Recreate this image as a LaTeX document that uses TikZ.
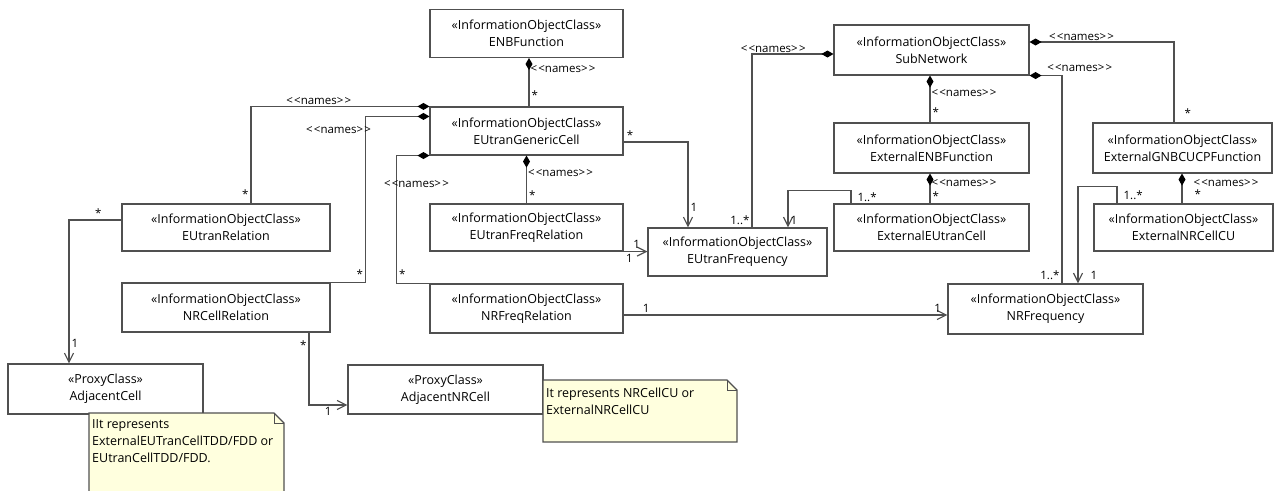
\documentclass[tikz,border=0pt]{standalone}
\usepackage{fontspec}
\setmainfont{Open Sans}
\usetikzlibrary{arrows.meta, positioning}

\definecolor{linegray}{RGB}{80,80,80}
\definecolor{notefill}{RGB}{255,255,222}
\newcommand{\nameslbl}{<\kern1.2pt<names>\kern1.2pt>}

\begin{document}
\begin{tikzpicture} [x=1pt, y=-1pt,
            font=\fontsize{12.5}{17}\selectfont,
            ioc/.style = {draw=linegray, line width=1.1pt, fill=white,
                align=center, inner sep=0pt, minimum width=195pt,
                minimum height=48pt},
            comp/.style = {draw=linegray, line width=1.2pt,
                {Diamond[length=12pt, width=7pt, color=black]}-},
            assoc/.style = {draw=linegray, line width=1.2pt,
                -{Straight Barb[length=9pt, width=9pt]}},
            notebox/.style = {draw=linegray, line width=1.1pt, fill=notefill},
            lbl/.style = {font=\fontsize{11.5}{12}\selectfont, inner sep=1pt},
            mult/.style = {font=\fontsize{11.5}{12}\selectfont, inner sep=2pt}]

        \fill [white] (0,0) rectangle (1276,490);
        \useasboundingbox (0,0) rectangle (1276,490);

        % Class ENBFunction
        \node (enb) [ioc, minimum width=193pt] at (526.5,33.5)
            {«InformationObjectClass»\\ENBFunction};

        % Class EUtranGenericCell
        \node (egc) [ioc, minimum width=193pt] at (526.5,131)
            {«InformationObjectClass»\\EUtranGenericCell};

        % Class EUtranRelation
        \node (eur) [ioc, minimum width=208pt, minimum height=47pt] at (226,227.5)
            {«InformationObjectClass»\\EUtranRelation};

        % Class NRCellRelation
        \node (nrcr) [ioc, minimum width=208pt, minimum height=49pt] at (226,307.5)
            {«InformationObjectClass»\\NRCellRelation};

        % Class EUtranFreqRelation
        \node (efr) [ioc, minimum width=193pt, minimum height=47pt] at (526.5,227.5)
            {«InformationObjectClass»\\EUtranFreqRelation};

        % Class NRFreqRelation
        \node (nrfr) [ioc, minimum width=193pt, minimum height=49pt] at (526.5,308.5)
            {«InformationObjectClass»\\NRFreqRelation};

        % Class EUtranFrequency
        \node (euf) [ioc, minimum width=179pt] at (737.5,252)
            {«InformationObjectClass»\\EUtranFrequency};

        % Class SubNetwork
        \node (sub) [ioc, minimum height=50pt] at (931.5,50)
            {«InformationObjectClass»\\SubNetwork};

        % Class ExternalENBFunction
        \node (xenb) [ioc, minimum height=50pt] at (931.5,148)
            {«InformationObjectClass»\\ExternalENBFunction};

        % Class ExternalEUtranCell
        \node (xeuc) [ioc, minimum height=47pt] at (931.5,227.5)
            {«InformationObjectClass»\\ExternalEUtranCell};

        % Class ExternalGNBCUCPFunction
        \node (xgnb) [ioc, minimum width=179pt, minimum height=50pt] at (1182.5,148)
            {«InformationObjectClass»\\ExternalGNBCUCPFunction};

        % Class ExternalNRCellCU
        \node (xnrc) [ioc, minimum width=179pt, minimum height=47pt] at (1183.5,227.5)
            {«InformationObjectClass»\\ExternalNRCellCU};

        % Class NRFrequency
        \node (nrf) [ioc, minimum height=50pt] at (1045.5,309)
            {«InformationObjectClass»\\NRFrequency};

        % Proxy AdjacentCell
        \node (adj) [ioc, minimum height=50pt] at (105.5,389)
            {«ProxyClass»\\AdjacentCell};

        % Proxy AdjacentNRCell
        \node (adjnr) [ioc, minimum height=49pt] at (445.5,389.5)
            {«ProxyClass»\\AdjacentNRCell};

        % Notes
        \draw [notebox] (89,493) -- (89,413) -- (274,413) -- (284,423)
            -- (284,493);
        \draw [linegray, line width=0.8pt] (274,413) -- (274,423) -- (284,423);
        \node (note1) [align=left, inner sep=0pt, anchor=north west] at (92,419)
            {IIt represents\\ExternalEUTranCellTDD/FDD or\\EUtranCellTDD/FDD.};

        \draw [notebox] (543,380) -- (727,380) -- (737,390) -- (737,442)
            -- (543,442) -- cycle;
        \draw [linegray, line width=0.8pt] (727,380) -- (727,390) -- (737,390);
        \node (note2) [align=left, inner sep=0pt, anchor=north west] at (546,388)
            {It represents NRCellCU or\\ExternalNRCellCU};

        % Helper points
        \coordinate (nrfr-out) at ([yshift=-6.5pt]nrfr.east);

        % Compositions
        \draw [comp] ([xshift=2.5pt]enb.south) --
            node [lbl, pos=0.22, right] {\nameslbl}
            node [mult, pos=0.76, right] {*} ([xshift=2.5pt]egc.north);
        \draw [comp] (egc.north west) -|
            node [lbl, pos=0.31, above] {\nameslbl}
            node [mult, pos=0.95, left] {*} ([xshift=25pt]eur.north);
        \draw [comp] ([yshift=-10pt]egc.north west) -|
            node [lbl, pos=0.5, anchor=north east, xshift=7pt, yshift=-8pt] {\nameslbl}
            node [mult, pos=0.975, left] {*} ([xshift=35pt]nrcr.north east)
            -- (nrcr.north east);
        \draw [comp] (egc.south west) -|
            node [lbl, pos=0.61, xshift=20pt] {\nameslbl}
            node [mult, pos=0.965, right] {*} ([xshift=-33pt]nrfr.north west)
            -- (nrfr.north west);
        \draw [comp] (egc.south) --
            node [lbl, pos=0.37, right] {\nameslbl}
            node [mult, pos=0.82, right] {*} (efr.north);
        \draw [comp] ([yshift=-4pt]sub.west) -|
            node [lbl, pos=0.37, above] {\nameslbl}
            node [mult, pos=0.98, left] {1..*} ([xshift=14.5pt]euf.north);
        \draw [comp] ([xshift=-1.5pt]sub.south) --
            node [lbl, pos=0.37, right] {\nameslbl}
            node [mult, pos=0.79, right] {*} ([xshift=-1.5pt]xenb.north);
        \draw [comp] ([yshift=8pt]sub.east) -|
            node [lbl, pos=0.18, above] {\nameslbl}
            node [mult, pos=0.94, right, xshift=8pt] {*} ([xshift=-8.5pt]xgnb.north);
        \draw [comp] (sub.south east) -|
            node [lbl, pos=0.25, anchor=south west, yshift=2pt] {\nameslbl}
            node [mult, pos=0.98, left] {1..*} ([xshift=16.5pt]nrf.north);
        \draw [comp] ([xshift=-1.5pt]xenb.south) --
            node [lbl, pos=0.32, right] {\nameslbl}
            node [mult, pos=0.77, right] {*} ([xshift=-1.5pt]xeuc.north);
        \draw [comp] ([xshift=-0.5pt]xgnb.south) --
            node [lbl, pos=0.32, right, xshift=10pt] {\nameslbl}
            node [mult, pos=0.7, right, xshift=10pt] {*} ([xshift=-1.5pt]xnrc.north);

        % Associations
        \draw [assoc] ([yshift=-11pt]egc.east) -|
            node [mult, pos=0.05, above] {*}
            node [mult, pos=0.88, right] {1} ([xshift=-49.5pt]euf.north);
        \draw [assoc] (efr.south east) --
            node [mult, pos=0.55, above] {1}
            node [mult, pos=0.25, below] {1} (efr.south east -| euf.west);
        \draw [assoc] ([xshift=-80.5pt]xeuc.north) --
            node [mult, pos=0.5, right, xshift=4pt] {1..*} ++(0,-13) -|
            node [mult, pos=0.9, right] {1} ([xshift=50.5pt]euf.north);
        \draw [assoc] ([xshift=-66.5pt]xnrc.north) --
            node [mult, pos=0.5, right, xshift=4pt] {1..*} ++(0,-17) -|
            node [mult, pos=0.96, right, xshift=10pt] {1} ([xshift=32.5pt]nrf.north);
        \draw [assoc] (nrfr-out) --
            node [mult, pos=0.07, above] {1}
            node [mult, pos=0.97, above] {1} (nrfr-out -| nrf.west);
        \draw [assoc] ([yshift=7.5pt]eur.west) -|
            node [mult, pos=0.22, above] {*}
            node [mult, pos=0.93, right] {1} ([xshift=-36.5pt]adj.north);
        \draw [assoc] ([xshift=83pt]nrcr.south) |-
            node [mult, pos=0.09, left] {*}
            node [mult, pos=0.75, below] {1} ([yshift=-15.5pt]adjnr.west);
\end{tikzpicture}
\end{document}
